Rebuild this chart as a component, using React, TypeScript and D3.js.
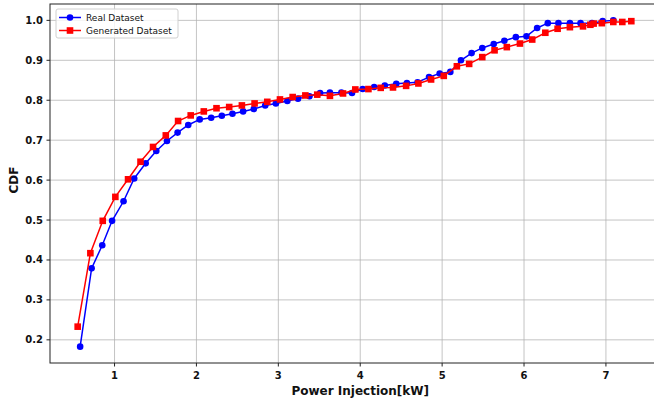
import * as d3 from 'd3';

// Real Dataset (blue circles)
const realX = [0.58, 0.72, 0.85, 0.97, 1.11, 1.24, 1.38, 1.51, 1.64, 1.77, 1.90, 2.04, 2.18, 2.31, 2.44, 2.57, 2.70, 2.84, 2.97, 3.11, 3.24, 3.38, 3.51, 3.63, 3.77, 3.90, 4.03, 4.17, 4.30, 4.44, 4.57, 4.70, 4.84, 4.97, 5.10, 5.23, 5.36, 5.49, 5.63, 5.76, 5.90, 6.03, 6.16, 6.29, 6.42, 6.56, 6.69, 6.83, 6.96, 7.09];
const realCdf = [0.183, 0.379, 0.437, 0.498, 0.547, 0.604, 0.642, 0.673, 0.698, 0.719, 0.738, 0.752, 0.756, 0.761, 0.766, 0.772, 0.778, 0.787, 0.792, 0.798, 0.804, 0.81, 0.818, 0.819, 0.819, 0.818, 0.828, 0.833, 0.837, 0.841, 0.843, 0.845, 0.858, 0.867, 0.871, 0.90, 0.918, 0.931, 0.941, 0.949, 0.958, 0.96, 0.981, 0.993, 0.993, 0.993, 0.993, 0.993, 0.998, 1.0];

// Generated Dataset (red squares)
const genX = [0.55, 0.705, 0.856, 1.01, 1.165, 1.317, 1.47, 1.626, 1.776, 1.93, 2.09, 2.245, 2.40, 2.555, 2.71, 2.865, 3.02, 3.175, 3.33, 3.475, 3.63, 3.79, 3.94, 4.10, 4.25, 4.40, 4.56, 4.71, 4.865, 5.02, 5.18, 5.33, 5.49, 5.64, 5.79, 5.95, 6.10, 6.26, 6.41, 6.56, 6.72, 6.81, 6.85, 6.95, 7.09, 7.20, 7.31];
const genCdf = [0.233, 0.417, 0.498, 0.558, 0.602, 0.646, 0.683, 0.712, 0.748, 0.762, 0.772, 0.78, 0.783, 0.787, 0.792, 0.796, 0.802, 0.808, 0.812, 0.814, 0.811, 0.817, 0.827, 0.828, 0.831, 0.832, 0.836, 0.842, 0.852, 0.861, 0.885, 0.891, 0.908, 0.925, 0.933, 0.942, 0.952, 0.969, 0.979, 0.983, 0.985, 0.989, 0.992, 0.993, 0.996, 0.996, 0.998];

const xTicks = [1, 2, 3, 4, 5, 6, 7];
const yTicks = [0.2, 0.3, 0.4, 0.5, 0.6, 0.7, 0.8, 0.9, 1.0];

const W = 654;
const H = 401;
const margin = { top: 4, right: -5, bottom: 38, left: 50 };

export default function App() {
  const iw = W - margin.left - margin.right;
  const ih = H - margin.top - margin.bottom;

  const x = d3.scaleLinear().domain([0.212, 7.648]).range([0, iw]);
  const y = d3.scaleLinear().domain([0.142, 1.041]).range([ih, 0]);

  const real = realX.map((v, i) => [v, realCdf[i]] as [number, number]);
  const gen = genX.map((v, i) => [v, genCdf[i]] as [number, number]);

  const line = d3.line<[number, number]>().x(d => x(d[0])).y(d => y(d[1]));

  const font = 'DejaVu Sans, sans-serif';
  const blue = '#0000ff';
  const red = '#ff0000';

  return (
    <div style={{ position: 'fixed', left: 0, top: 0 }}>
      <svg width={W} height={H} style={{ display: 'block', background: '#fff' }}>
        <g transform={`translate(${margin.left},${margin.top})`}>
          {/* grid */}
          {xTicks.map(t => (
            <line key={'gx' + t} x1={x(t)} x2={x(t)} y1={0} y2={ih} stroke="#b0b0b0" strokeOpacity={0.75} strokeWidth={1} />
          ))}
          {yTicks.map(t => (
            <line key={'gy' + t} x1={0} x2={iw} y1={y(t)} y2={y(t)} stroke="#b0b0b0" strokeOpacity={0.75} strokeWidth={1} />
          ))}

          {/* series */}
          <path d={line(real) ?? ''} fill="none" stroke={blue} strokeWidth={1.5} />
          {real.map((d, i) => (
            <circle key={'r' + i} cx={x(d[0])} cy={y(d[1])} r={3.3} fill={blue} />
          ))}
          <path d={line(gen) ?? ''} fill="none" stroke={red} strokeWidth={1.5} />
          {gen.map((d, i) => (
            <rect key={'g' + i} x={x(d[0]) - 3.3} y={y(d[1]) - 3.3} width={6.6} height={6.6} fill={red} />
          ))}

          {/* frame */}
          <rect x={0} y={0} width={iw} height={ih} fill="none" stroke="#222" strokeWidth={1} />

          {/* x axis */}
          {xTicks.map(t => (
            <g key={'xt' + t} transform={`translate(${x(t)},${ih})`}>
              <line y1={0} y2={3.5} stroke="#222" />
              <text y={16} textAnchor="middle" fontFamily={font} fontWeight="bold" fontSize={10} fill="#111">{t}</text>
            </g>
          ))}
          <text x={x(4)} y={ih + 32} textAnchor="middle" fontFamily={font} fontWeight="bold" fontSize={12} fill="#111">Power Injection[kW]</text>

          {/* y axis */}
          {yTicks.map(t => (
            <g key={'yt' + t} transform={`translate(0,${y(t)})`}>
              <line x1={-3.5} x2={0} stroke="#222" />
              <text x={-7} dy="0.35em" textAnchor="end" fontFamily={font} fontWeight="bold" fontSize={10} fill="#111">{t.toFixed(1)}</text>
            </g>
          ))}
          <text transform={`translate(${-32},${y(0.6)}) rotate(-90)`} textAnchor="middle" fontFamily={font} fontWeight="bold" fontSize={12} fill="#111">CDF</text>

          {/* legend */}
          <g transform="translate(6,5)">
            <rect x={0} y={0} width={122} height={29} rx={2} fill="#fff" fillOpacity={0.8} stroke="#d0d0d0" strokeWidth={1} />
            <line x1={3} x2={25} y1={8.5} y2={8.5} stroke={blue} strokeWidth={1.5} />
            <circle cx={14} cy={8.5} r={3.3} fill={blue} />
            <text x={30} y={8.5} dy="0.35em" fontFamily={font} fontSize={9} fill="#111">Real Dataset</text>
            <line x1={3} x2={25} y1={21.5} y2={21.5} stroke={red} strokeWidth={1.5} />
            <rect x={14 - 3.3} y={21.5 - 3.3} width={6.6} height={6.6} fill={red} />
            <text x={30} y={21.5} dy="0.35em" fontFamily={font} fontSize={9} fill="#111">Generated Dataset</text>
          </g>
        </g>
      </svg>
    </div>
  );
}
